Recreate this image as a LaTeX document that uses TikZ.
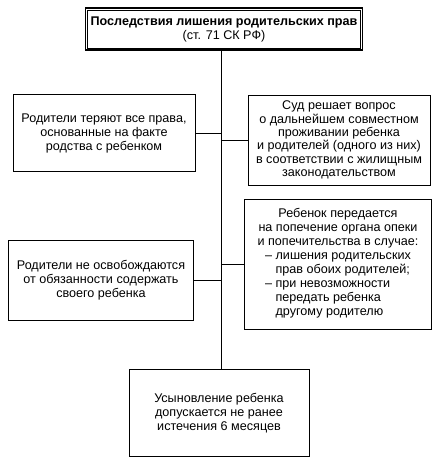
\documentclass[tikz,border=0pt]{standalone}
\usepackage{fontspec}
\setmainfont{Liberation Sans}
\usetikzlibrary{positioning}
\tikzset{box/.style = {draw, line width = 0.8, align = center, inner sep = 2, font = \fontsize{12.6}{14}\selectfont}}
\tikzset{tightbox/.style = {box, font = \fontsize{12.6}{13.4}\selectfont}}

\begin{document}
\begin{tikzpicture}[x = 1pt, y = -1pt]
  \useasboundingbox (0, 0) rectangle (435, 465);

  \node [box, line width = 1.8, minimum width = 277, minimum height = 42] (head) at (224, 29)
    {\textbf{Последствия лишения родительских прав}\\(ст. 71 СК РФ)};
  \draw [line width = 0.6] ([xshift = 3, yshift = -3]head.north west) rectangle ([xshift = -3, yshift = 3]head.south east);

  \node [box, minimum width = 182, minimum height = 77] (left1) at (104, 133)
    {Родители теряют все права,\\основанные на факте\\родства с ребенком};
  \node [tightbox, minimum width = 182, minimum height = 90] (right1) at (339, 140)
    {Суд решает вопрос\\о дальнейшем совместном\\проживании ребенка\\и родителей (одного из них)\\в соответствии с жилищным\\законодательством};
  \node [box, minimum width = 185, minimum height = 80] (left2) at (101, 280)
    {Родители не освобождаются\\от обязанности содержать\\своего ребенка};
  \node [box, minimum width = 187, minimum height = 130] (right2) at (338, 264)
    {Ребенок передается\\на попечение органа опеки\\и попечительства в случае:\\
     \begin{tabular}{@{}l@{}}
       -- лишения родительских\\
       \phantom{-- }прав обоих родителей;\\
       -- при невозможности\\
       \phantom{-- }передать ребенка\\
       \phantom{-- }другому родителю
     \end{tabular}};
  \node [box, minimum width = 180, minimum height = 87] (bottom) at (219, 413)
    {Усыновление ребенка\\допускается не ранее\\истечения 6 месяцев};

  % trunk and branches
  \coordinate (trunk) at (221, 0);
  \draw [line width = 0.8] (head.south -| trunk) -- (bottom.north -| trunk);
  \foreach \n in {left1, left2} {
    \draw [line width = 0.8] (\n.east) -- (\n.east -| trunk);
  }
  \foreach \n in {right1, right2} {
    \draw [line width = 0.8] (\n.west) -- (\n.west -| trunk);
  }
\end{tikzpicture}
\end{document}
